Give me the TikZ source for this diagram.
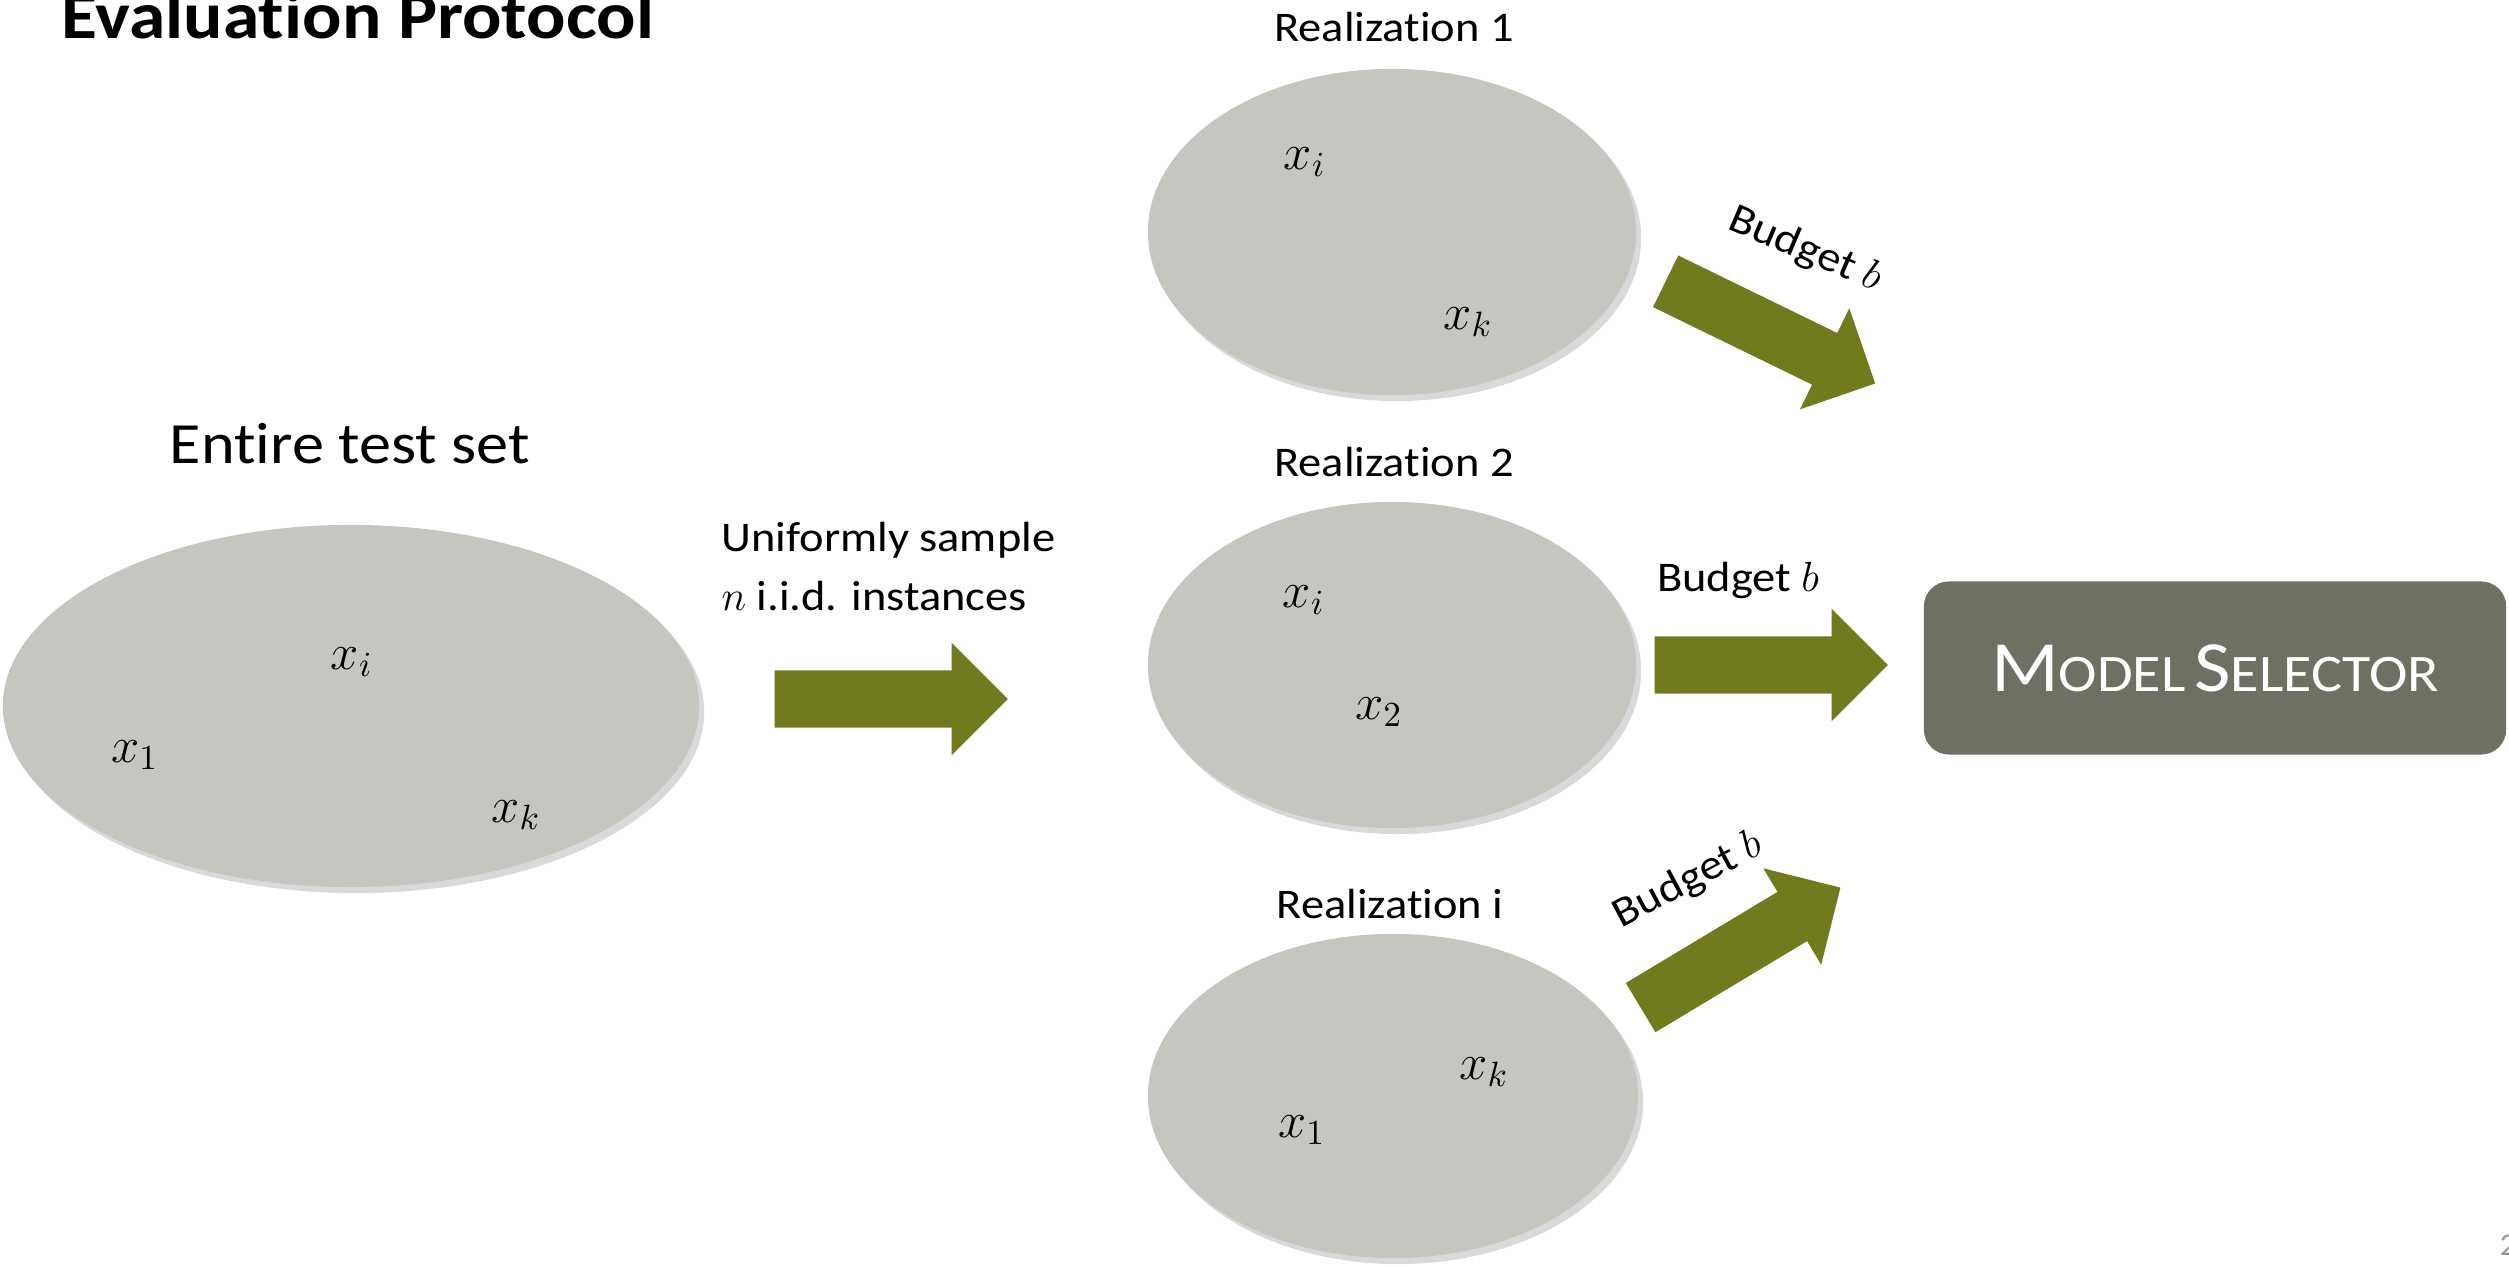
\documentclass[tikz,border=0pt]{standalone}
\usepackage{fontspec}
\setmainfont{Carlito}[Ligatures=NoCommon,FakeStretch=1.1]
\usetikzlibrary{shapes.geometric,shapes.arrows,shadows}

\definecolor{setgray}{HTML}{C6C5C0}
\definecolor{olivearrow}{HTML}{727A1E}
\definecolor{selboxgray}{HTML}{6F6F63}
\newcommand{\fakesc}[2]{{\fontsize{20.5}{22}\selectfont #1}{\fontsize{15}{16}\selectfont #2}}

\begin{document}
\begin{tikzpicture}[x=0.01cm,y=0.01cm,
  sampleset/.style={ellipse,inner sep=0pt,fill=setgray,
    drop shadow={shadow xshift=.5mm,shadow yshift=-.6mm,opacity=.3}},
  fatarrow/.style={single arrow,fill=olivearrow,anchor=tail,inner xsep=0pt,
    inner ysep=2.8mm,minimum height=23.3mm,single arrow head extend=2.75mm},
  lab/.style={inner sep=0pt,font=\fontsize{12}{14}\selectfont},
  elem/.style={inner sep=0pt,font=\fontsize{14.5}{16}\selectfont}]
 \useasboundingbox (0,0) rectangle (2509,1267);
 \node[anchor=base west,inner sep=0pt,font=\fontsize{19}{22}\selectfont\bfseries]
   (title) at (61,1228) {Evaluation Protocol};
 % whole test set
 \node[sampleset,minimum width=69.6mm,minimum height=36.2mm] (whole) at (351,561) {};
 \node[anchor=base,inner sep=0pt,font=\fontsize{16.6}{19}\selectfont]
   (wholelab) at (350,803) {Entire test set};
 \node[elem] (wxi) at (352,605) {$x_i$};
 \node[elem] (wx1) at (135,512) {$x_1$};
 \node[elem] (wxk) at (516,452) {$x_k$};
 \node[fatarrow] (samplearr) at (774,568) {};
 \node[anchor=north west,align=left,inner sep=0pt,font=\fontsize{12}{16.5}\selectfont]
   (samplelab) at (721,745) {Uniformly sample\\$n$ i.i.d. instances};
 % realizations
 \node[sampleset,minimum width=48.8mm,minimum height=32.6mm] (real1) at (1392,1035) {};
 \node[sampleset,minimum width=48.8mm,minimum height=32.6mm] (real2) at (1392,602) {};
 \node[sampleset,minimum width=49mm,minimum height=32.4mm] (real3) at (1393,171) {};
 \node[lab,anchor=base] (real1lab) at (1394,1225) {Realization 1};
 \node[lab,anchor=base] (real2lab) at (1394,790) {Realization 2};
 \node[lab,anchor=base] (real3lab) at (1390,348) {Realization i};
 \node[elem] (r1xi) at (1305,1105) {$x_i$};
 \node[elem] (r1xk) at (1468,945) {$x_k$};
 \node[elem] (r2xi) at (1304,667) {$x_i$};
 \node[elem] (r2x2) at (1379,555) {$x_2$};
 \node[elem] (r3xk) at (1484,195) {$x_k$};
 \node[elem] (r3x1) at (1302,137) {$x_1$};
 % budget arrows
 \node[fatarrow,rotate=-26] (budget1) at (1665,986) {};
 \node[fatarrow] (budget2) at (1654,602) {};
 \node[fatarrow,rotate=31] (budget3) at (1640,259) {};
 \node[lab,rotate=-23] (budget1lab) at (1805,1017) {Budget $b$};
 \node[lab,anchor=base] (budget2lab) at (1738,675) {Budget $b$};
 \node[lab,rotate=28] (budget3lab) at (1688,386) {Budget $b$};
 % selector
 \node[fill=selboxgray,rounded corners=2.5mm,minimum width=58.2mm,minimum height=17.3mm,
   text=white,inner sep=0pt] (selector) at (2215,599) {\fakesc{M}{ODEL} \fakesc{S}{ELECTOR}};
 \node[anchor=west,inner sep=0pt,text=black!40,font=\fontsize{9}{10}\selectfont] (pagenum) at (2499,22) {2};
\end{tikzpicture}
\end{document}
